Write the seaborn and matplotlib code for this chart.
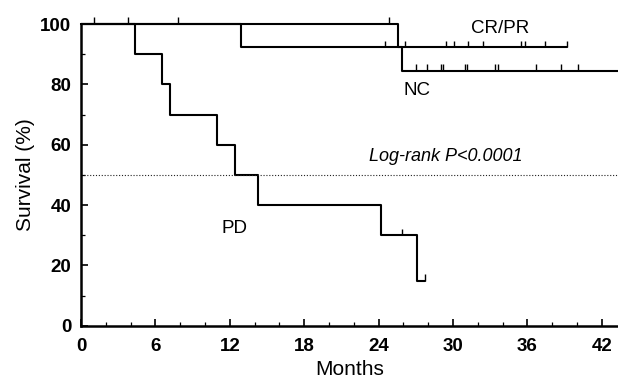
import numpy as np
import pandas as pd
import matplotlib
matplotlib.use("Agg")
import matplotlib.pyplot as plt
from matplotlib.ticker import MultipleLocator
import seaborn as sns

sns.set_style("white")
plt.rcParams["font.family"] = ["Liberation Sans", "DejaVu Sans"]
for key in ["text.color", "axes.labelcolor", "xtick.color", "ytick.color"]:
    plt.rcParams[key] = "black"

# Kaplan-Meier step curves: time of each drop (months) and the survival (%) after it
groups = ["CR/PR", "NC", "PD"]
crpr_times = [0, 25.6, 39.2]
crpr_surv = [100, 92.3, 92.3]
nc_times = [0, 12.9, 25.9, 44.0]
nc_surv = [100, 92.3, 84.6, 84.6]
pd_times = [0, 4.35, 6.5, 7.2, 11.0, 12.4, 14.3, 24.2, 27.1, 27.7]
pd_surv = [100, 90, 80, 70, 60, 50, 40, 30, 15, 15]

# censored observations (months)
crpr_censor = [1.05, 3.8, 7.8, 24.8, 26.1, 29.4, 30.1, 31.2, 32.4, 35.5, 35.8, 37.4, 39.2]
nc_censor = [24.5, 27.0, 27.9, 29.0, 29.2, 31.0, 31.1, 33.4, 33.6, 36.7, 38.7, 40.1]
pd_censor = [25.9, 27.7]

x_ticks = [0, 6, 12, 18, 24, 30, 36, 42]
y_ticks = [0, 20, 40, 60, 80, 100]

curves = {
    "CR/PR": (crpr_times, crpr_surv, crpr_censor),
    "NC": (nc_times, nc_surv, nc_censor),
    "PD": (pd_times, pd_surv, pd_censor),
}

df = pd.concat(
    [pd.DataFrame({"group": g, "month": t, "survival": s}) for g, (t, s, _) in curves.items()],
    ignore_index=True,
)

fig = plt.figure(figsize=(6.18, 3.82), dpi=100)
ax = fig.add_axes([0.131, 0.147, 0.869, 0.790])

sns.lineplot(
    data=df, x="month", y="survival", hue="group", units="group",
    estimator=None, palette={g: "black" for g in groups},
    drawstyle="steps-post", linewidth=1.5, legend=False, ax=ax,
)

# censor ticks sit on the curve at the survival level in force at that time
for g, (t, s, c) in curves.items():
    idx = np.searchsorted(t, c, side="right") - 1
    lv = np.asarray(s)[idx]
    ax.vlines(c, lv, lv + 2.2, colors="black", linewidth=1.0, clip_on=False)

ax.axhline(50, color="#222222", linestyle=(0, (1, 1.6)), linewidth=0.8)

ax.set_xlim(0, 43.3)
ax.set_ylim(0, 100)
# keep the 100% lines fully visible at the top edge
for line in ax.lines:
    line.set_clip_on(False)
ax.set_xticks(x_ticks)
ax.set_yticks(y_ticks)
ax.xaxis.set_minor_locator(MultipleLocator(2))
ax.yaxis.set_minor_locator(MultipleLocator(10))
ax.tick_params(axis="both", which="major", direction="in", length=5, width=1.2,
               labelsize=13.5)
ax.tick_params(axis="x", which="major", pad=9)
ax.tick_params(axis="y", which="major", pad=7)
ax.tick_params(axis="both", which="minor", direction="in", length=3, width=0.9)
ax.tick_params(axis="both", which="both", bottom=True, left=True)
for lab in ax.get_xticklabels() + ax.get_yticklabels():
    lab.set_fontweight("bold")

for side in ["top", "right"]:
    ax.spines[side].set_visible(False)
for side in ["left", "bottom"]:
    ax.spines[side].set_linewidth(1.8)
    ax.spines[side].set_color("black")

ax.set_xlabel("Months", fontsize=15, labelpad=3)
ax.set_ylabel("Survival (%)", fontsize=15, labelpad=4)

ax.text(33.8, 98.5, "CR/PR", fontsize=13.5, ha="center", va="center")
ax.text(27.1, 78, "NC", fontsize=13.5, ha="center", va="center")
ax.text(12.4, 32.4, "PD", fontsize=13.5, ha="center", va="center")
ax.text(29.4, 56, "Log-rank P<0.0001", fontsize=13, style="italic", ha="center", va="center")

fig.savefig("out.png", dpi=100, facecolor="white")
